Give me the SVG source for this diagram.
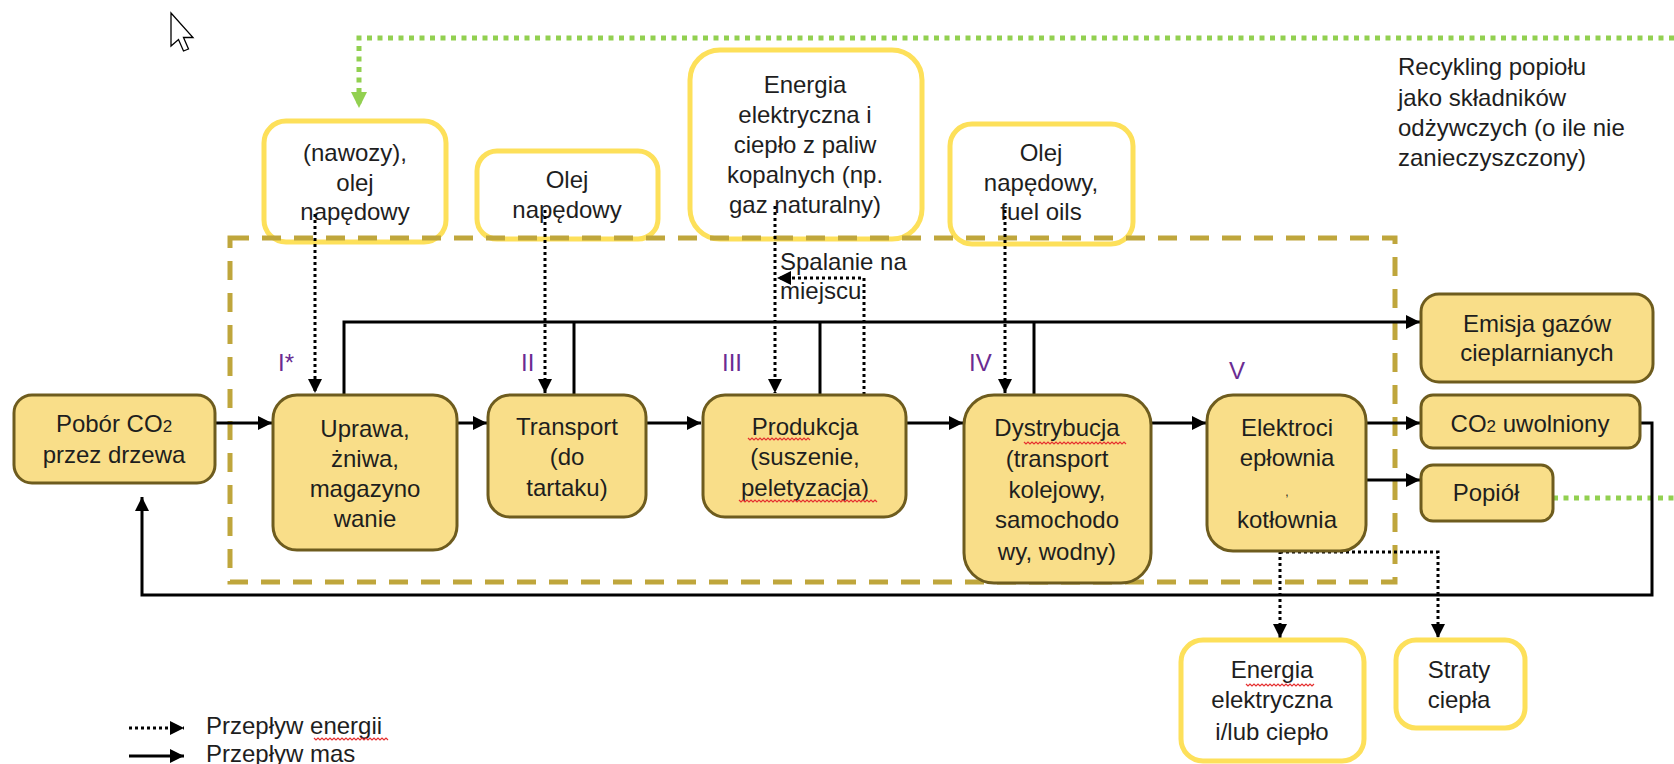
<svg xmlns="http://www.w3.org/2000/svg" width="1674" height="764" viewBox="0 0 1674 764">
<defs>
<style>
text{font-family:"Liberation Sans",Arial,sans-serif;font-size:24px;fill:#1e1e1e;text-anchor:middle}
.lbl{fill:#6a2c92;text-anchor:start}
.proc{fill:#f9de89;stroke:#6e5c1e;stroke-width:3}
.src{fill:#fff;stroke:#fde05a;stroke-width:5}
.mass{fill:none;stroke:#000;stroke-width:3}
.energy{fill:none;stroke:#000;stroke-width:3;stroke-dasharray:3 3}
.green{fill:none;stroke:#92d050;stroke-width:5;stroke-dasharray:5 5.5}
.bound{fill:none;stroke:#bfa63c;stroke-width:5;stroke-dasharray:19 13}
.sq{fill:none;stroke:#e53030;stroke-width:1.2}
</style>
<marker id="ah" viewBox="0 0 14 14" refX="14" refY="7" markerWidth="14" markerHeight="14" markerUnits="userSpaceOnUse" orient="auto">
<path d="M0,0 L14,7 L0,14 Z" fill="#000"/>
</marker>
<marker id="ahg" viewBox="0 0 16 16" refX="16" refY="8" markerWidth="16" markerHeight="16" markerUnits="userSpaceOnUse" orient="auto">
<path d="M0,0 L16,8 L0,16 Z" fill="#92d050"/>
</marker>
</defs>
<rect width="1674" height="764" fill="#fff"/>

<!-- cursor -->
<polygon points="171,13 171,46 178.5,39.5 183.5,51 188.5,49 183.5,37.5 193,37.5" fill="#fff" stroke="#000" stroke-width="1.3"/>

<!-- source boxes (energy inputs) -->
<g id="n-nawozy">
<rect class="src" x="264" y="121" width="182" height="121" rx="22"/>
<text x="355" y="161">(nawozy),</text>
<text x="355" y="191">olej</text>
<text x="355" y="220">napędowy</text>
</g>
<g id="n-olej1">
<rect class="src" x="477" y="151" width="181" height="88" rx="20"/>
<text x="567" y="188">Olej</text>
<text x="567" y="218">napędowy</text>
</g>
<g id="n-energia-kop">
<rect class="src" x="690" y="50" width="232" height="189" rx="30"/>
<text x="805" y="93">Energia</text>
<text x="805" y="123">elektryczna  i</text>
<text x="805" y="153">ciepło z paliw</text>
<text x="805" y="183">kopalnych (np.</text>
<text x="805" y="213">gaz naturalny)</text>
</g>
<g id="n-olej2">
<rect class="src" x="950" y="124" width="183" height="120" rx="22"/>
<text x="1041" y="161">Olej</text>
<text x="1041" y="191">napędowy,</text>
<text x="1041" y="220">fuel oils</text>
</g>

<!-- boundary -->
<rect class="bound" x="230" y="238" width="1165" height="344"/>

<!-- labels -->
<text class="lbl" x="278" y="371">I*</text>
<text class="lbl" x="521" y="371">II</text>
<text class="lbl" x="722" y="371">III</text>
<text class="lbl" x="969" y="371">IV</text>
<text class="lbl" x="1229" y="379">V</text>

<g id="t-spalanie">
<text x="780" y="270" style="text-anchor:start">Spalanie na</text>
<text x="780" y="299" style="text-anchor:start">miejscu</text>
</g>

<g id="t-recykling">
<text x="1398" y="75" style="text-anchor:start">Recykling popiołu</text>
<text x="1398" y="106" style="text-anchor:start">jako składników</text>
<text x="1398" y="136" style="text-anchor:start">odżywczych (o ile nie</text>
<text x="1398" y="166" style="text-anchor:start">zanieczyszczony)</text>
</g>

<!-- connectors -->
<g id="connectors">
<path class="green" d="M1674,38 H359 V108" marker-end="url(#ahg)"/>
<path class="green" d="M1553,498 H1674"/>
<path class="mass" d="M215,423 H272" marker-end="url(#ah)"/>
<path class="mass" d="M457,423 H487" marker-end="url(#ah)"/>
<path class="mass" d="M646,423 H701" marker-end="url(#ah)"/>
<path class="mass" d="M906,423 H963" marker-end="url(#ah)"/>
<path class="mass" d="M1151,423 H1206" marker-end="url(#ah)"/>
<path class="mass" d="M1366,423 H1420" marker-end="url(#ah)"/>
<path class="mass" d="M1366,480 H1420" marker-end="url(#ah)"/>
<path class="mass" d="M344,395 V322 H1420" marker-end="url(#ah)"/>
<path class="mass" d="M574,395 V322"/>
<path class="mass" d="M820,395 V322"/>
<path class="mass" d="M1034,395 V322"/>
<path class="mass" d="M1625,423 H1652 V595 H142 V497" marker-end="url(#ah)"/>
<path class="energy" d="M315,214 V393" marker-end="url(#ah)"/>
<path class="energy" d="M545,210 V393" marker-end="url(#ah)"/>
<path class="energy" d="M775,206 V393" marker-end="url(#ah)"/>
<path class="energy" d="M1005,210 V393" marker-end="url(#ah)"/>
<path class="energy" d="M864,395 V278 H777" marker-end="url(#ah)"/>
<path class="energy" d="M1280,527 V638" marker-end="url(#ah)"/>
<path class="energy" d="M1280,552 H1438 V638" marker-end="url(#ah)"/>
</g>

<!-- process nodes -->
<g id="n-pobor">
<rect class="proc" x="14" y="395" width="201" height="88" rx="18"/>
<text x="114" y="432">Pobór CO<tspan style="font-size:17px">2</tspan></text>
<text x="114" y="463">przez drzewa</text>
</g>
<g id="n-uprawa">
<rect class="proc" x="273" y="395" width="184" height="155" rx="24"/>
<text x="365" y="437">Uprawa,</text>
<text x="365" y="467">żniwa,</text>
<text x="365" y="497">magazyno</text>
<text x="365" y="527">wanie</text>
</g>
<g id="n-transport">
<rect class="proc" x="488" y="395" width="158" height="122" rx="22"/>
<text x="567" y="435">Transport</text>
<text x="567" y="465">(do</text>
<text x="567" y="496">tartaku)</text>
</g>
<g id="n-produkcja">
<rect class="proc" x="703" y="395" width="203" height="122" rx="22"/>
<text x="805" y="435">Produkcja</text>
<text x="805" y="465">(suszenie,</text>
<text x="805" y="496">peletyzacja)</text>
</g>
<g id="n-dystrybucja">
<rect class="proc" x="964" y="395" width="187" height="188" rx="30"/>
<text x="1057" y="436">Dystrybucja</text>
<text x="1057" y="467">(transport</text>
<text x="1057" y="498">kolejowy,</text>
<text x="1057" y="528">samochodo</text>
<text x="1057" y="560">wy, wodny)</text>
</g>
<g id="n-elektro">
<rect class="proc" x="1207" y="395" width="159" height="156" rx="26"/>
<text x="1287" y="436">Elektroci</text>
<text x="1287" y="466">epłownia</text>
<text x="1287" y="496" style="font-size:12px">,</text>
<text x="1287" y="528">kotłownia</text>
</g>
<g id="n-emisja">
<rect class="proc" x="1421" y="294" width="232" height="88" rx="18"/>
<text x="1537" y="332">Emisja gazów</text>
<text x="1537" y="361">cieplarnianych</text>
</g>
<g id="n-co2">
<rect class="proc" x="1421" y="395" width="219" height="53" rx="12"/>
<text x="1530" y="432">CO<tspan style="font-size:17px">2</tspan> uwolniony</text>
</g>
<g id="n-popiol">
<rect class="proc" x="1421" y="465" width="132" height="56" rx="12"/>
<text x="1486" y="501">Popiół</text>
</g>

<!-- output boxes -->
<g id="n-energia-out">
<rect class="src" x="1181" y="640" width="183" height="121" rx="22"/>
<text x="1272" y="678">Energia</text>
<text x="1272" y="708">elektryczna</text>
<text x="1272" y="740">i/lub ciepło</text>
</g>
<g id="n-straty">
<rect class="src" x="1396" y="640" width="129" height="88" rx="20"/>
<text x="1459" y="678">Straty</text>
<text x="1459" y="708">ciepła</text>
</g>

<!-- legend -->
<g id="legend">
<path class="energy" d="M129,728 H184" marker-end="url(#ah)"/>
<path class="mass" d="M129,756 H184" marker-end="url(#ah)"/>
<text x="206" y="734" style="text-anchor:start">Przepływ energii</text>
<text x="206" y="762" style="text-anchor:start">Przepływ mas</text>
</g>

<!-- spell-check squiggles -->
<g id="squiggles">
<path class="sq" d="M748,438 l2,2 l2,-2 l2,2 l2,-2 l2,2 l2,-2 l2,2 l2,-2 l2,2 l2,-2 l2,2 l2,-2 l2,2 l2,-2 l2,2 l2,-2 l2,2 l2,-2 l2,2 l2,-2 l2,2 l2,-2 l2,2 l2,-2 l2,2 l2,-2 l2,2 l2,-2 l2,2 l2,-2 l2,2"/>
<path class="sq" d="M739,500 l2,2 l2,-2 l2,2 l2,-2 l2,2 l2,-2 l2,2 l2,-2 l2,2 l2,-2 l2,2 l2,-2 l2,2 l2,-2 l2,2 l2,-2 l2,2 l2,-2 l2,2 l2,-2 l2,2 l2,-2 l2,2 l2,-2 l2,2 l2,-2 l2,2 l2,-2 l2,2 l2,-2 l2,2 l2,-2 l2,2 l2,-2 l2,2 l2,-2 l2,2 l2,-2 l2,2 l2,-2 l2,2 l2,-2 l2,2 l2,-2 l2,2 l2,-2 l2,2 l2,-2 l2,2 l2,-2 l2,2 l2,-2 l2,2 l2,-2 l2,2 l2,-2 l2,2 l2,-2 l2,2 l2,-2 l2,2 l2,-2 l2,2 l2,-2 l2,2 l2,-2 l2,2 l2,-2 l2,2"/>
<path class="sq" d="M1024,442 l2,2 l2,-2 l2,2 l2,-2 l2,2 l2,-2 l2,2 l2,-2 l2,2 l2,-2 l2,2 l2,-2 l2,2 l2,-2 l2,2 l2,-2 l2,2 l2,-2 l2,2 l2,-2 l2,2 l2,-2 l2,2 l2,-2 l2,2 l2,-2 l2,2 l2,-2 l2,2 l2,-2 l2,2 l2,-2 l2,2 l2,-2 l2,2 l2,-2 l2,2 l2,-2 l2,2 l2,-2 l2,2 l2,-2 l2,2 l2,-2 l2,2 l2,-2 l2,2 l2,-2 l2,2 l2,-2 l2,2"/>
<path class="sq" d="M314,738 l2,2 l2,-2 l2,2 l2,-2 l2,2 l2,-2 l2,2 l2,-2 l2,2 l2,-2 l2,2 l2,-2 l2,2 l2,-2 l2,2 l2,-2 l2,2 l2,-2 l2,2 l2,-2 l2,2 l2,-2 l2,2 l2,-2 l2,2 l2,-2 l2,2 l2,-2 l2,2 l2,-2 l2,2 l2,-2 l2,2 l2,-2 l2,2 l2,-2 l2,2"/>
<path class="sq" d="M1246,684 l2,2 l2,-2 l2,2 l2,-2 l2,2 l2,-2 l2,2 l2,-2 l2,2 l2,-2 l2,2 l2,-2 l2,2 l2,-2 l2,2 l2,-2 l2,2 l2,-2 l2,2 l2,-2 l2,2 l2,-2 l2,2 l2,-2 l2,2 l2,-2 l2,2 l2,-2 l2,2 l2,-2 l2,2 l2,-2 l2,2 l2,-2"/>
</g>
</svg>
